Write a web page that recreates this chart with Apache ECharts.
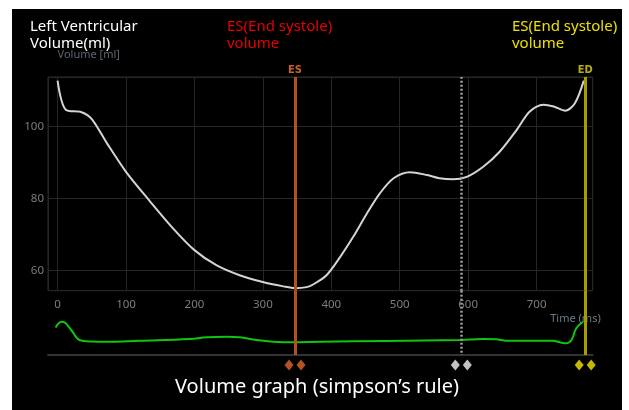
<!DOCTYPE html>
<html>
<head>
<meta charset="utf-8">
<script src="https://cdn.jsdelivr.net/npm/echarts@6/dist/echarts.min.js"></script>
<style>
  html, body { margin: 0; padding: 0; background: #ffffff; width: 629px; height: 410px; overflow: hidden; }
  #chart { position: absolute; left: 12px; top: 9px; width: 610px; height: 401px; }
</style>
</head>
<body>
<div id="chart"></div>
<script>
// Volume curve (time in ms, volume in ml)
const volumeTimes = [0, 12, 35, 50, 72, 100, 135, 169, 200, 232, 266, 300, 330, 347, 364, 374, 393, 413, 432, 452, 471, 491, 515, 540, 558, 578, 598, 622, 646, 671, 690, 710, 725, 742, 756, 769];
const volumeValues = [112.8, 104.7, 104.0, 102.1, 95.4, 87.4, 79.2, 71.6, 65.6, 61.4, 58.6, 56.7, 55.5, 55.0, 55.3, 56.1, 58.6, 63.7, 69.3, 75.8, 81.4, 85.6, 87.3, 86.5, 85.6, 85.3, 86.0, 88.8, 93.0, 99.1, 104.2, 106.1, 105.6, 104.4, 106.5, 112.8];

// Lower green trace (arbitrary units)
const traceTimes = [-3, 6, 11, 20, 32, 50, 72, 120, 193, 218, 247, 266, 291, 315, 344, 384, 481, 588, 622, 641, 656, 724, 734, 743, 751, 758, 768];
const traceValues = [5.5, 6.66, 6.46, 5.0, 3.0, 2.7, 2.66, 2.86, 3.2, 3.54, 3.66, 3.54, 3.0, 2.66, 2.54, 2.66, 2.8, 3.0, 3.2, 3.14, 2.86, 2.86, 2.54, 2.34, 3.0, 5.34, 6.66];

// Vertical markers
const markerTimes = [347, 590, 771];
const markerLabels = ['ES', '', 'ED'];

// Axis ranges
const timeMin = -14, timeMax = 782;
const volMin = 54.3, volMax = 113.8;
const traceMin = -3.4, traceMax = 12.86;
const diamondLevel = -2;

const markerStyles = [
  { color: '#b0521f', width: 3, type: 'solid', label: '#c8602a', diamond: '#e0672c' },
  { color: '#a0a0a0', width: 2.5, type: [2, 2], label: '#cccccc', diamond: '#f2f2f2' },
  { color: '#a89c00', width: 3, type: 'solid', label: '#b8ac10', diamond: '#f5e600' }
];

const chart = echarts.init(document.getElementById('chart'), null, { renderer: 'canvas' });

const volumeData = volumeTimes.map((t, i) => [t, volumeValues[i]]);
const traceData = traceTimes.map((t, i) => [t, traceValues[i]]);

const upperMarks = markerTimes.map((t, i) => ({
  xAxis: t,
  lineStyle: { color: markerStyles[i].color, width: markerStyles[i].width, type: markerStyles[i].type },
  label: { show: markerLabels[i] !== '', formatter: markerLabels[i], position: 'end', color: markerStyles[i].label, fontSize: 11, fontWeight: 'bold', fontFamily: 'DejaVu Sans Condensed, Noto Sans', distance: 1 }
}));

const lowerMarks = markerTimes.map((t, i) => ([
  { coord: [t, traceMax], lineStyle: { color: markerStyles[i].color, width: markerStyles[i].width, type: markerStyles[i].type } },
  { coord: [t, 0] }
]));

const diamonds = [];
markerTimes.forEach((t, i) => {
  diamonds.push({ value: [t, diamondLevel], symbolOffset: [-6, 0], itemStyle: { color: markerStyles[i].diamond } });
  diamonds.push({ value: [t, diamondLevel], symbolOffset: [6, 0], itemStyle: { color: markerStyles[i].diamond } });
});

const gridColor = '#262626';

chart.setOption({
  backgroundColor: '#000000',
  animation: false,
  textStyle: { fontFamily: 'Noto Sans, Open Sans, sans-serif' },
  grid: [
    { left: 36, right: 29.3, top: 68, height: 213.7, show: true, borderColor: '#2c2c2c', borderWidth: 1, backgroundColor: 'transparent' },
    { left: 36, right: 29.3, top: 281.7, height: 81.3, show: false }
  ],
  xAxis: [
    {
      type: 'value', gridIndex: 0, min: timeMin, max: timeMax, splitNumber: 8,
      name: 'Time (ms)', nameLocation: 'end', nameGap: 8,
      nameTextStyle: { color: '#6c7b88', fontSize: 11, align: 'right', verticalAlign: 'top', padding: [23, 0, 0, 0] },
      axisLine: { show: false }, axisTick: { show: false },
      axisLabel: { color: '#7d7d7d', fontSize: 11.5, margin: 8, showMinLabel: false, showMaxLabel: false },
      splitLine: { show: true, lineStyle: { color: gridColor, width: 1 } }
    },
    {
      type: 'value', gridIndex: 1, min: timeMin, max: timeMax,
      axisLine: { show: true, onZero: true, lineStyle: { color: '#333333', width: 2 } },
      axisTick: { show: false }, axisLabel: { show: false }, splitLine: { show: false }
    }
  ],
  yAxis: [
    {
      type: 'value', gridIndex: 0, min: volMin, max: volMax, splitNumber: 3,
      name: 'Volume [ml]', nameLocation: 'end', nameGap: 17,
      nameTextStyle: { color: '#5c6670', fontSize: 11, align: 'left' },
      axisLine: { show: false }, axisTick: { show: false },
      axisLabel: { color: '#7d7d7d', fontSize: 11.5, margin: 4, showMinLabel: false, showMaxLabel: false },
      splitLine: { show: true, lineStyle: { color: gridColor, width: 1 } }
    },
    {
      type: 'value', gridIndex: 1, min: traceMin, max: traceMax, show: false,
      splitLine: { show: false }
    }
  ],
  graphic: [
    { type: 'text', left: 18, top: 9, style: { text: 'Left Ventricular\nVolume(ml)', fill: '#ffffff', fontSize: 15, lineHeight: 17, fontFamily: 'Noto Sans' } },
    { type: 'text', left: 215, top: 9, style: { text: 'ES(End systole)\nvolume', fill: '#e60000', fontSize: 15, lineHeight: 17, fontFamily: 'Noto Sans' } },
    { type: 'text', left: 500, top: 9, style: { text: 'ES(End systole)\nvolume', fill: '#eee000', fontSize: 15, lineHeight: 17, fontFamily: 'Noto Sans' } },
    { type: 'text', left: 'center', top: 368, style: { text: 'Volume graph (simpson\u2019s rule)', fill: '#ffffff', fontSize: 20, fontFamily: 'Noto Sans' } }
  ],
  series: [
    {
      type: 'line', xAxisIndex: 0, yAxisIndex: 0, data: volumeData, smooth: 0.3,
      showSymbol: false, symbol: 'none',
      lineStyle: { color: '#d4d4d4', width: 2 },
      markLine: { silent: true, symbol: 'none', animation: false, data: upperMarks }
    },
    {
      type: 'line', xAxisIndex: 1, yAxisIndex: 1, data: traceData, smooth: 0.4,
      showSymbol: false, symbol: 'none',
      lineStyle: { color: '#12c412', width: 2 },
      markLine: { silent: true, symbol: 'none', animation: false, label: { show: false }, data: lowerMarks },
      z: 3
    },
    {
      type: 'scatter', xAxisIndex: 1, yAxisIndex: 1, data: diamonds, clip: false,
      symbol: 'diamond', symbolSize: [9, 11], silent: true, z: 4
    }
  ]
});
</script>
</body>
</html>
